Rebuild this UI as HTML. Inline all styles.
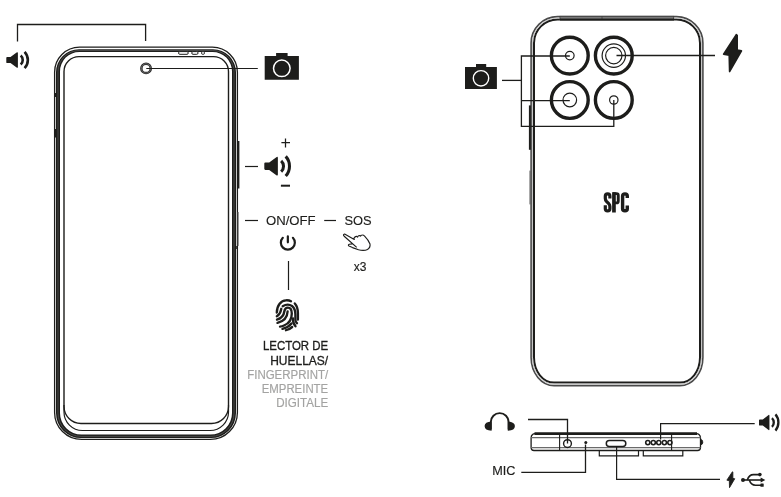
<!DOCTYPE html>
<html><head><meta charset="utf-8">
<style>
html,body{margin:0;padding:0;background:#fff;}
body{width:781px;height:497px;overflow:hidden;position:relative;}
svg{position:absolute;left:0;top:0;will-change:transform;}
.t{font-family:"Liberation Sans",sans-serif;fill:#1d1d1b;stroke:#1d1d1b;stroke-width:0.15px;}
</style></head><body>
<svg width="781" height="497" viewBox="0 0 781 497">
<g fill="none" stroke="#1d1d1b">
  <!-- ===== LEFT PHONE (front) ===== -->
  <!-- outer thin -->
  <path d="M79.6 47.2 H212.4 A25 25 0 0 1 237.4 72.2 V412.4 A27 27 0 0 1 210.4 439.4 H81.6 A27 27 0 0 1 54.6 412.4 V72.2 A25 25 0 0 1 79.6 47.2 Z" stroke-width="1.3"/>
  <!-- thick band -->
  <path d="M79 49.2 H213 A23 23 0 0 1 236 72.2 V413.1 A25 25 0 0 1 211 438.1 H81 A25 25 0 0 1 56 413.1 V72.2 A23 23 0 0 1 79 49.2 Z M79.5 51.9 H212.5 A19.5 19.5 0 0 1 232 71.4 V413.1 A21.5 21.5 0 0 1 210.5 434.6 H81.5 A21.5 21.5 0 0 1 60 413.1 V71.4 A19.5 19.5 0 0 1 79.5 51.9 Z" fill="#1d1d1b" stroke="none" fill-rule="evenodd"/>
  <path d="M79.2 50.55 H212.8 A21.2 21.2 0 0 1 234 71.75 V413.15000000000003 A23.2 23.2 0 0 1 210.8 436.35 H81.2 A23.2 23.2 0 0 1 58 413.15000000000003 V71.75 A21.2 21.2 0 0 1 79.2 50.55 Z" stroke="#6a6a6a" stroke-width="0.6"/>
  <!-- screen -->
  <path d="M79 56.6 H213.5 A15 15 0 0 1 228.5 71.6 V406.5 A17 17 0 0 1 211.5 423.5 H81 A17 17 0 0 1 64 406.5 V71.6 A15 15 0 0 1 79 56.6 Z" stroke-width="1.4"/>
  <!-- second inner bottom line -->
  <path d="M64 405 L64 412 A18.5 18.5 0 0 0 82.5 430.5 L210 430.5 A18.5 18.5 0 0 0 228.5 412 L228.5 405" stroke-width="1.2"/>
  <!-- speaker slots -->
  <g fill="#fff" stroke-width="1"><rect x="178.6" y="51.6" width="9.6" height="2.7" rx="1.2"/><rect x="191.8" y="51.6" width="6.2" height="2.7" rx="1.2"/><rect x="201.6" y="51.6" width="2.8" height="2.7" rx="1"/></g>
  <!-- front camera -->
  <circle cx="146.05" cy="68.4" r="4.7" stroke-width="2.5" stroke="#2a2a2a"/>
  <circle cx="146.05" cy="68.4" r="4.7" stroke-width="0.5" stroke="#999"/>
  <!-- right side buttons -->
  <path d="M238.4 141 V188.5" stroke-width="2"/>
  <path d="M55.2 93 V97 M55.2 129 V137.5" stroke-width="1.6"/>
  <path d="M238.3 212 V246" stroke-width="1.1" stroke="#8a8a8a"/>
  <path d="M236.8 246 V249" stroke-width="1.2"/>

  <!-- leaders left phone -->
  <path d="M17.5 41.5 V24.5 H145.6 V41" stroke-width="1.3"/>
  <path d="M146.3 68.5 H257.8" stroke-width="1.2"/>
  <path d="M245 166.5 H258" stroke-width="1.2"/>
  <path d="M245 220.5 H258" stroke-width="1.2"/>
  <path d="M324.2 220.5 H336" stroke-width="1.2"/>
  <path d="M288.5 261 V290" stroke-width="1.2"/>

  <!-- ===== RIGHT PHONE (back) ===== -->
  <path d="M557.6 16.6 H676.4 A26.5 26.5 0 0 1 702.9 43.1 V357.6 A23 28 0 0 1 679.9 385.6 H554.1 A23 28 0 0 1 531.1 357.6 V43.1 A26.5 26.5 0 0 1 557.6 16.6 Z" stroke-width="1.6" stroke="#4a4a4a"/>
  <path d="M557.5 19.5 H676.5 A23.5 23.5 0 0 1 700 43.0 V357.6 A20 25 0 0 1 680 382.6 H554 A20 25 0 0 1 534 357.6 V43.0 A23.5 23.5 0 0 1 557.5 19.5 Z" stroke-width="2"/>
  <path d="M557.5 18.05 H676.5 A25 25 0 0 1 701.5 43.05 V357.6 A21.5 26.5 0 0 1 680.0 384.1 H554.0 A21.5 26.5 0 0 1 532.5 357.6 V43.05 A25 25 0 0 1 557.5 18.05 Z" stroke-width="0.9" stroke="#c0c0c0"/>
  <!-- side button -->
  <path d="M529.9 105.4 V149.8" stroke-width="2"/>
  <path d="M530 170.6 V204.4" stroke-width="1" stroke="#555"/>

  <!-- lenses -->
  <circle cx="569.8" cy="55.6" r="18.4" stroke-width="3.4"/>
  <circle cx="569.8" cy="55.6" r="4.3" stroke-width="1.2"/>
  <circle cx="613.8" cy="55.6" r="18.4" stroke-width="3.4"/>
  <circle cx="613.8" cy="55.6" r="11.7" stroke-width="1.2"/>
  <circle cx="613.8" cy="55.6" r="8.2" stroke-width="1.2"/>
  <circle cx="569.8" cy="100" r="18.4" stroke-width="3.4"/>
  <circle cx="569.8" cy="100" r="6.8" stroke-width="1.2"/>
  <circle cx="613.8" cy="100" r="18.4" stroke-width="3.4"/>
  <circle cx="613.8" cy="100" r="4.2" stroke-width="1.2"/>

  <!-- leaders right phone -->
  <path d="M569.8 56 H521.4 V126.4 H613.8 V100" stroke-width="1.3"/>
  <path d="M521.4 100.7 H569.8" stroke-width="1.3"/>
  <path d="M502 80.4 H521.3" stroke-width="1.3"/>
  <path d="M616.5 55.5 H715" stroke-width="1.3"/>

  <!-- ===== BOTTOM VIEW ===== -->
  <path d="M531.1 438 Q531.1 435.6 532.5 434.6 Q533.6 433.7 535 433.7 H696.5 Q698 433.7 699 434.6 Q700.5 436 700.5 438 V447.5 Q700.5 450.5 697.5 450.5 H534 Q531.1 450.5 531.1 447.5 Z" stroke-width="1.3"/>
  <path d="M534.5 433.6 H697" stroke-width="2.7"/>
  <path d="M531 437.6 H700.5 M531 447.6 H700.5" stroke-width="1.3" stroke="#6a6a6a"/>
  <path d="M559.6 433.5 V450.5 M671.6 433.5 V450.5" stroke-width="1.1"/>
  <path d="M701 439.6 Q702.8 439.8 702.8 442.2 Q702.8 444.6 701 444.8 Z" fill="#1d1d1b" stroke-width="0.8"/>
  <!-- feet -->
  <path d="M599.3 450.5 V455.8 H638.5 V450.5 M643.3 450.5 V455.8 H682.8 V450.5" stroke-width="1.2"/>
  <!-- jack -->
  <circle cx="567.5" cy="443.6" r="3.9" stroke-width="1.4"/>
  <!-- usb-c -->
  <rect x="606.3" y="440.6" width="19.5" height="6" rx="3" stroke-width="1.5"/>
  <!-- speaker holes -->
  <circle cx="647.8" cy="442.6" r="2.1" stroke-width="1.6"/>
  <circle cx="653.3" cy="442.6" r="2.1" stroke-width="1.6"/>
  <circle cx="658.8" cy="442.6" r="2.1" stroke-width="1.6"/>
  <circle cx="664.4" cy="442.6" r="2.1" stroke-width="1.6"/>
  <circle cx="669.9" cy="442.6" r="2.1" stroke-width="1.6"/>
  <!-- leaders -->
  <path d="M528 419.5 H567.5 V443.6" stroke-width="1.3"/>
  <path d="M585.5 444.5 V472.3 H521.3" stroke-width="1.3"/>
  <path d="M616.6 446.8 V479.3 H720" stroke-width="1.2"/>
  <path d="M660.6 439.5 V423.6 H754.7" stroke-width="1.2"/>
</g>
<g fill="#1d1d1b" stroke="none">
  <circle cx="585.8" cy="442.6" r="1.5"/>
  <!-- camera icons -->
  <path d="M264.7 56 H276.1 V53 H287.6 V56 H298.9 V79.8 H264.7 Z"/>
  <path d="M465 66.9 H476 V64 H486.2 V66.9 H496.9 V89 H465 Z"/>
</g>
<circle cx="281.8" cy="68.3" r="8.3" fill="none" stroke="#fff" stroke-width="1.5"/>
<circle cx="481" cy="78.3" r="7.7" fill="none" stroke="#fff" stroke-width="1.4"/>


<!-- ===== ICONS ===== -->

<g transform="translate(6.3 60)">
    <path d="M0.9 -3.1 H4.2 L10.3 -7.5 Q11.6 -8.3 11.6 -6.9 V6.9 Q11.6 8.3 10.3 7.5 L4.2 3.1 H0.9 Q0 3.1 0 2.2 V-2.2 Q0 -3.1 0.9 -3.1 Z" fill="#1d1d1b"/>
    <path d="M14.4 -4.5 A6 6 0 0 1 14.4 4.5" fill="none" stroke="#1d1d1b" stroke-width="2.6"/>
    <path d="M18.3 -8.2 A12 12 0 0 1 18.3 8.2" fill="none" stroke="#1d1d1b" stroke-width="2.6"/>
  </g>
<g transform="translate(264.3 166.2) scale(1.17 1.2)">
    <path d="M0.9 -3.1 H4.2 L10.3 -7.5 Q11.6 -8.3 11.6 -6.9 V6.9 Q11.6 8.3 10.3 7.5 L4.2 3.1 H0.9 Q0 3.1 0 2.2 V-2.2 Q0 -3.1 0.9 -3.1 Z" fill="#1d1d1b"/>
    <path d="M14.4 -4.5 A6 6 0 0 1 14.4 4.5" fill="none" stroke="#1d1d1b" stroke-width="2.6"/>
    <path d="M18.3 -8.2 A12 12 0 0 1 18.3 8.2" fill="none" stroke="#1d1d1b" stroke-width="2.6"/>
  </g>
<g transform="translate(759 422.5) scale(0.9 0.98)">
    <path d="M0.9 -3.1 H4.2 L10.3 -7.5 Q11.6 -8.3 11.6 -6.9 V6.9 Q11.6 8.3 10.3 7.5 L4.2 3.1 H0.9 Q0 3.1 0 2.2 V-2.2 Q0 -3.1 0.9 -3.1 Z" fill="#1d1d1b"/>
    <path d="M14.4 -4.5 A6 6 0 0 1 14.4 4.5" fill="none" stroke="#1d1d1b" stroke-width="2.6"/>
    <path d="M18.3 -8.2 A12 12 0 0 1 18.3 8.2" fill="none" stroke="#1d1d1b" stroke-width="2.6"/>
  </g>
<!-- + and - -->
<path d="M281.4 142.5 H290 M285.5 138.4 V147.4" stroke="#1d1d1b" stroke-width="1.25" fill="none"/>
<path d="M280.9 185.7 H290" stroke="#1d1d1b" stroke-width="2" fill="none"/>
<!-- power -->
<path d="M282.8 237.8 A7 7 0 1 0 292.9 237.8 M287.85 236.3 V242.3" stroke="#1d1d1b" stroke-width="2.2" fill="none" stroke-linecap="round"/>
<!-- hand -->
<path d="M356.7 247.4 L344.2 236.2 Q342.6 234.4 344.6 234 L354.3 239.4 L353.9 238.2 Q355 236.3 356.4 236.3 L357.6 237.1 Q358.1 235.5 359.3 235.5 L360.5 236.1 Q361.1 235 362.3 235 Q363.6 234.9 364.4 235.8 Q368.5 240 370 244 Q370.6 247.5 367.5 249.5 Q364 251.2 358.5 249.8 L352.5 247.6 L349 246 Q347.6 245 349.3 244.3 L352.3 243.9" stroke="#1d1d1b" stroke-width="1.15" fill="none" stroke-linejoin="round"/>
<!-- bolts -->
<path d="M736.3 34.6 L723.6 54.2 L729.2 55.2 L729.6 71.6 L741.5 50.9 L737.2 50 L737.2 35.3 Z" fill="#1d1d1b" stroke="#1d1d1b" stroke-width="1.6" stroke-linejoin="round"/>
<path d="M736.3 34.6 L723.6 54.2 L729.2 55.2 L729.6 71.6 L741.5 50.9 L737.2 50 L737.2 35.3 Z" fill="#1d1d1b" stroke="#1d1d1b" stroke-width="2" stroke-linejoin="round" transform="translate(726.6 471.6) scale(0.44 0.43) translate(-723 -34.3)"/>
<!-- usb -->
<g fill="#1d1d1b" stroke="#1d1d1b">
  <circle cx="743" cy="480" r="2" stroke="none"/>
  <path d="M743 480 H762" stroke-width="1.6" fill="none"/>
  <path d="M760.6 477.6 L765.3 480 L760.6 482.4 Z" stroke="none"/>
  <path d="M747.3 480 Q749 474.6 753.5 474.6 H759.5" stroke-width="1.6" fill="none"/>
  <circle cx="759.9" cy="474.6" r="1.8" stroke="none"/>
  <path d="M749.3 480 Q751 485.2 755.5 485.2 H761" stroke-width="1.6" fill="none"/>
  <rect x="760.4" y="483.5" width="3.3" height="3.3" rx="0.6" stroke="none"/>
</g>
<!-- headphones -->
<path d="M490.8 429.5 V422 A8.9 8.9 0 0 1 508.6 422 V429.5" stroke="#1d1d1b" stroke-width="1.9" fill="none"/>
<path d="M491.6 421.4 Q484.6 421.8 484.6 426.1 Q484.6 430.7 491.6 430.7 Z M507.8 421.4 Q514.9 421.8 514.9 426.1 Q514.9 430.7 507.8 430.7 Z" fill="#1d1d1b"/>
<!-- SPC logo -->
<g fill="none" stroke="#1d1d1b">
  <path d="M609.9 198.4 V196 Q609.9 193.8 607.6 193.8 Q605.3 193.8 605.3 196 V198.5 Q605.3 200 606.5 201.3 L608.7 203.5 Q609.9 204.8 609.9 206.5 V208.8 Q609.9 210.9 607.6 210.9 Q605.3 210.9 605.3 208.8 V205.2" stroke-width="3.2"/>
  <path d="M613 193.65 H616.6 Q618.25 193.65 618.25 195.5 V200.9 Q618.25 202.85 616.6 202.85 H613" stroke-width="2.9"/>
  <path d="M627.3 198 V196 Q627.3 193.9 625 193.9 Q622.6 193.9 622.6 196 V208.7 Q622.6 210.8 625 210.8 Q627.3 210.8 627.3 208.7 V205.5" stroke-width="3.4"/>
</g>
<rect x="612.1" y="192.2" width="3.7" height="20.3" fill="#1d1d1b"/>
<!-- top band right phone -->
<rect x="560" y="16.3" width="113.7" height="3.2" fill="#8a8a8a" stroke="#3a3a3a" stroke-width="0.8"/>
<path d="M560.5 16.6 H673.2" stroke="#4a4a4a" stroke-width="1.2"/>
<path d="M602 16.5 V19.5" stroke="#3a3a3a" stroke-width="0.7"/>
<path d="M560 19.5 H674" stroke="#1d1d1b" stroke-width="2"/>

<!-- fingerprint -->
<g fill="none" stroke="#1d1d1b" stroke-width="2.35" stroke-linecap="round">
<path d="M276.8 312.5 C277 305 281 300.5 286 300.3 C288 300.2 289.7 300.5 291 301.2"/>
<path d="M294.8 303.5 C297 306 297.9 309.5 297.9 313 L297.9 319.5"/>
<path d="M282.7 306.2 C285.5 304.5 289.5 304.3 292 306 C294.5 308 295.4 311 295.4 314.5 L295.4 319.5 C295.4 321.5 296 322.5 297 323.2"/>
<path d="M281.3 308.8 C280.6 312.5 279 315 276.8 316.2"/>
<path d="M277 319.6 C281.5 318.2 283.8 315.5 284.3 311.5 C284.7 308.8 286 307.6 287.8 307.6 C290.5 307.6 291.8 310 291.8 313.5 C291.8 319 289 323.5 284 325.5 C282.5 326.2 281 326.5 280 326.6"/>
<path d="M277.5 322.9 C283 321.5 287.3 317.5 287.6 311.5"/>
<path d="M293 318.5 C292.8 321 293.5 324 295.5 326.3"/>
<path d="M282.5 328.9 C286 328 289.5 326 291.5 323.5"/>
<path d="M286 330.2 C288.5 329.8 290.5 328.5 292.2 327"/>
</g>

<!-- text -->
<text class="t" x="266" y="224.8" font-size="13.4" textLength="49.6" lengthAdjust="spacingAndGlyphs">ON/OFF</text>
<text class="t" x="344.4" y="224.8" font-size="13.3" textLength="27.2" lengthAdjust="spacingAndGlyphs">SOS</text>
<text class="t" x="353.7" y="271.2" font-size="12">x3</text>
<text class="t" x="492.2" y="475" font-size="12.3" textLength="23.2" lengthAdjust="spacingAndGlyphs">MIC</text>
<g class="t" font-size="12" text-anchor="end" lengthAdjust="spacingAndGlyphs">
<text x="328.2" y="350.3" textLength="65.3" lengthAdjust="spacingAndGlyphs" stroke="#1d1d1b" stroke-width="0.3">LECTOR DE</text>
<text x="328.2" y="364.7" textLength="58" lengthAdjust="spacingAndGlyphs" stroke="#1d1d1b" stroke-width="0.3">HUELLAS/</text>
<text x="328.2" y="379.1" textLength="81" lengthAdjust="spacingAndGlyphs" fill="#a3a3a2" stroke="#a3a3a2">FINGERPRINT/</text>
<text x="328.2" y="392.9" textLength="66.5" lengthAdjust="spacingAndGlyphs" fill="#a3a3a2" stroke="#a3a3a2">EMPREINTE</text>
<text x="328.2" y="406.6" textLength="52" lengthAdjust="spacingAndGlyphs" fill="#a3a3a2" stroke="#a3a3a2">DIGITALE</text>
</g>
</svg>
</body></html>
